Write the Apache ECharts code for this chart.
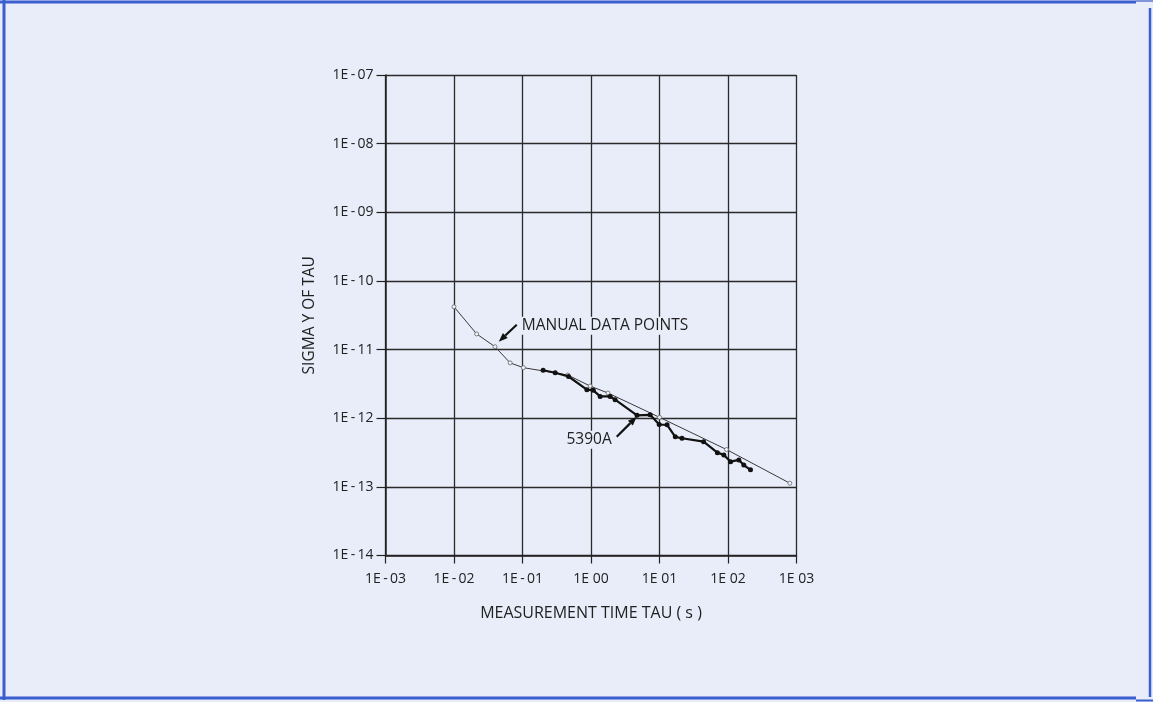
<!DOCTYPE html>
<html>
<head>
<meta charset="utf-8">
<script src="https://cdn.jsdelivr.net/npm/echarts@6/dist/echarts.min.js"></script>
<style>
html,body{margin:0;padding:0;background:#e8edf9;}
#c{width:1153px;height:702px;}
</style>
</head>
<body>
<div id="c"></div>
<script>
// ---- data ----
const xTickLabels = ['1E\u2009-\u200903','1E\u2009-\u200902','1E\u2009-\u200901','1E 00','1E 01','1E 02','1E 03'];
const yTickLabels = ['1E\u2009-\u200907','1E\u2009-\u200908','1E\u2009-\u200909','1E\u2009-\u200910','1E\u2009-\u200911','1E\u2009-\u200912','1E\u2009-\u200913','1E\u2009-\u200914'];

const manualTau   = [0.01, 0.0214, 0.0397, 0.066, 0.103, 0.46, 0.97, 1.77, 10, 95, 800];
const manualSigma = [4.2e-11, 1.69e-11, 1.10e-11, 6.4e-12, 5.45e-12, 4.26e-12, 2.94e-12, 2.33e-12, 1.03e-12, 3.5e-13, 1.13e-13];

const s5390Tau   = [0.2, 0.3, 0.47, 0.87, 1.08, 1.36, 1.9, 2.25, 4.7, 7.3, 9.9, 12.9, 17, 21.3, 44, 70, 87, 109, 144, 170, 213];
const s5390Sigma = [5.0e-12, 4.6e-12, 4.05e-12, 2.6e-12, 2.55e-12, 2.08e-12, 2.08e-12, 1.86e-12, 1.1e-12, 1.12e-12, 8.1e-13, 8.0e-13, 5.35e-13, 5.1e-13, 4.55e-13, 3.15e-13, 2.92e-13, 2.33e-13, 2.47e-13, 2.08e-13, 1.77e-13];

const annotations = [
  {text: 'MANUAL DATA POINTS', tip: [0.045, 1.3e-11], dx: 18, dy: -17, side: 'right'},
  {text: '5390A', tip: [4.65, 1.05e-12], dx: -20, dy: 20, side: 'left'}
];

const FONT = '"Open Sans", Lato, sans-serif';
const INK = '#222';

const chart = echarts.init(document.getElementById('c'), null, {renderer: 'canvas'});

function zip(a, b) { return a.map((v, i) => [v, b[i]]); }

const option = {
  backgroundColor: '#e8edf9',
  animation: false,
  grid: {left: 385.5, top: 75, right: 356.5, bottom: 146.5, containLabel: false},
  xAxis: {
    type: 'log', logBase: 10, min: 1e-3, max: 1e3, splitNumber: 6,
    name: 'MEASUREMENT TIME TAU ( s )', nameLocation: 'middle', nameGap: 50,
    nameTextStyle: {fontFamily: FONT, fontSize: 16, color: INK},
    axisLine: {show: true, onZero: false, lineStyle: {color: INK, width: 1.5}},
    axisTick: {show: true, inside: false, length: 8, lineStyle: {color: INK, width: 1.2}},
    minorTick: {show: false},
    axisLabel: {
      margin: 17, fontFamily: FONT, fontSize: 14, color: INK,
      formatter: v => xTickLabels[Math.round(Math.log10(v)) + 3] || ''
    },
    splitLine: {show: true, lineStyle: {color: '#2a2a2a', width: 1.3}}
  },
  yAxis: {
    type: 'log', logBase: 10, min: 1e-14, max: 1e-7, splitNumber: 7,
    name: 'SIGMA Y OF TAU', nameLocation: 'middle', nameGap: 68,
    nameTextStyle: {fontFamily: FONT, fontSize: 15.5, color: INK},
    axisLine: {show: true, onZero: false, lineStyle: {color: INK, width: 1.5}},
    axisTick: {show: true, inside: false, length: 9, lineStyle: {color: INK, width: 1.2}},
    minorTick: {show: false},
    axisLabel: {
      margin: 12, fontFamily: FONT, fontSize: 14, color: INK,
      formatter: v => yTickLabels[-7 - Math.round(Math.log10(v))] || ''
    },
    splitLine: {show: true, lineStyle: {color: '#2a2a2a', width: 1.3}}
  },
  series: [
    {
      name: 'Manual', type: 'line', data: zip(manualTau, manualSigma),
      symbol: 'circle', symbolSize: 4, showSymbol: true,
      lineStyle: {color: '#3a3a3a', width: 1},
      itemStyle: {color: '#eef2fb', borderColor: '#666', borderWidth: 0.8},
      z: 3
    },
    {
      name: '5390A', type: 'line', data: zip(s5390Tau, s5390Sigma),
      symbol: 'circle', symbolSize: 5, showSymbol: true,
      lineStyle: {color: '#111', width: 2.2},
      itemStyle: {color: '#111'},
      z: 4
    }
  ]
};
chart.setOption(option);

// Annotations placed from data coordinates
const g = [];
annotations.forEach(a => {
  const tip = chart.convertToPixel({gridIndex: 0}, a.tip);
  const tail = [tip[0] + a.dx, tip[1] + a.dy];
  const ang = Math.atan2(tip[1] - tail[1], tip[0] - tail[0]);
  const L = 9, W = 3.5;
  const bx = tip[0] - L * Math.cos(ang), by = tip[1] - L * Math.sin(ang);
  const px = -Math.sin(ang) * W, py = Math.cos(ang) * W;
  g.push({type: 'line', shape: {x1: tail[0], y1: tail[1], x2: bx, y2: by}, style: {stroke: '#111', lineWidth: 2.2}, z: 10});
  g.push({type: 'polygon', shape: {points: [[tip[0], tip[1]], [bx + px, by + py], [bx - px, by - py]]}, style: {fill: '#111'}, z: 10});
  const tx = a.side === 'right' ? tail[0] + 3 : tail[0] - 3;
  const ty = a.side === 'right' ? tail[1] + 1 : tail[1] + 3;
  g.push({type: 'text', x: tx, y: ty, style: {
    text: a.text, fontFamily: FONT, fontSize: 15.5, fill: INK,
    align: a.side === 'right' ? 'left' : 'right', verticalAlign: 'middle',
    backgroundColor: '#e8edf9', padding: [1, 2]
  }, z: 11});
});
// page frame
const B = '#3b5fcf';
g.push({type: 'line', shape: {x1: 0, y1: 2, x2: 1136, y2: 2}, style: {stroke: B, lineWidth: 3}, z: 20});
g.push({type: 'line', shape: {x1: 1136, y1: 1, x2: 1153, y2: 1}, style: {stroke: '#7f95d8', lineWidth: 2}, z: 20});
g.push({type: 'line', shape: {x1: 4, y1: 0, x2: 4, y2: 700}, style: {stroke: B, lineWidth: 3}, z: 20});
g.push({type: 'line', shape: {x1: 0, y1: 698, x2: 1136, y2: 698}, style: {stroke: B, lineWidth: 3}, z: 20});
g.push({type: 'line', shape: {x1: 1150, y1: 8, x2: 1150, y2: 697}, style: {stroke: B, lineWidth: 2.5}, z: 20});
g.push({type: 'line', shape: {x1: 1136, y1: 700.5, x2: 1153, y2: 700.5}, style: {stroke: B, lineWidth: 2}, z: 20});
chart.setOption({graphic: g});
</script>
</body>
</html>
